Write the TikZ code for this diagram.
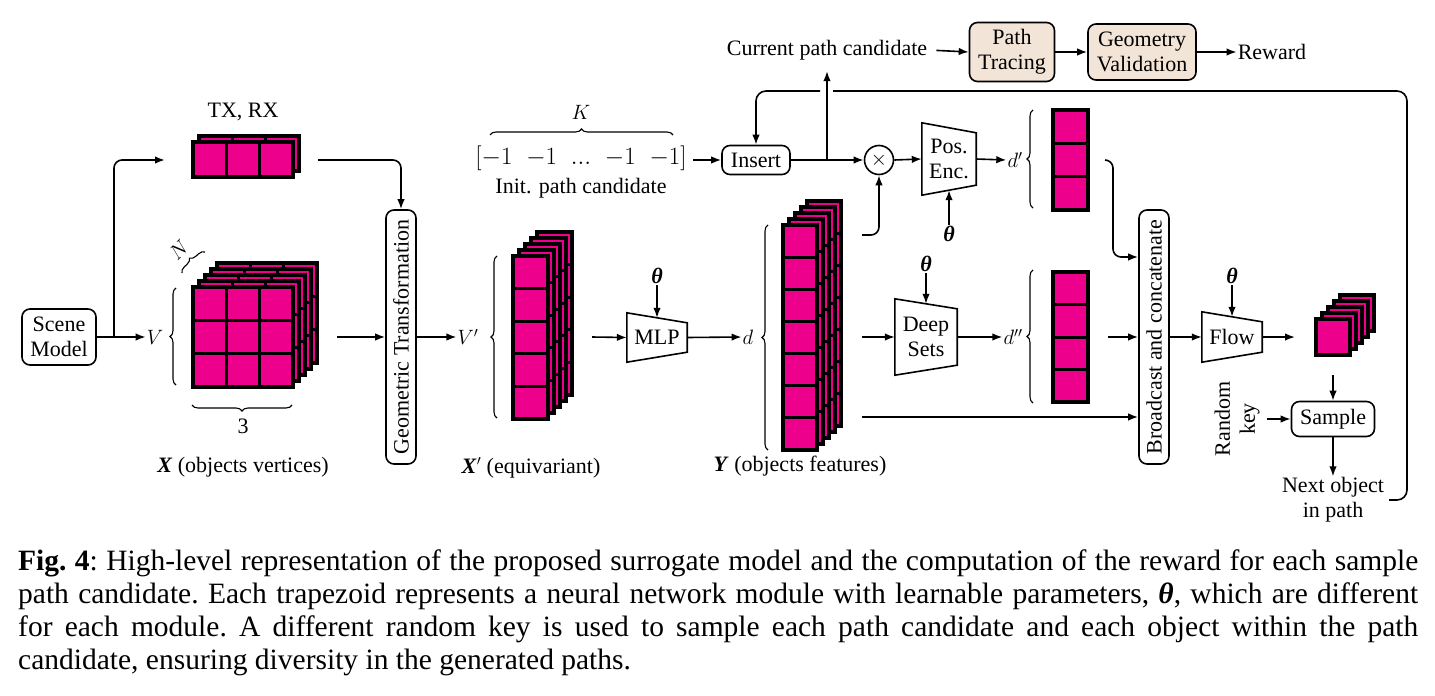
\documentclass[tikz,border=0pt]{standalone}
\usepackage{amsmath}
\usepackage{fontspec}
\setmainfont{Liberation Serif}
\usetikzlibrary{arrows.meta,decorations.pathreplacing,calc}
\definecolor{cellpink}{RGB}{236,0,140}
\definecolor{boxtan}{RGB}{242,228,214}
\newcommand\cellstack[8]{%
  \pgfmathtruncatemacro\nlay{#7-1}%
  \foreach \k in {\nlay,...,0}{%
    \pgfmathsetmacro\ox{#1+#8*\k}%
    \pgfmathsetmacro\oy{#2-#8*\k}%
    \pgfmathsetmacro\W{8+#3*#5+(#3-1)*3}%
    \pgfmathsetmacro\H{8+#4*#6+(#4-1)*3}%
    \fill[black] (\ox,\oy) rectangle ++(\W,\H);
    \foreach \i in {1,...,#3}{\foreach \j in {1,...,#4}{%
      \fill[cellpink] ({\ox+4+(\i-1)*(#5+3)},{\oy+4+(\j-1)*(#6+3)}) rectangle ++(#5,#6);
    }}%
  }}
\newcommand\trapdraw[2]{%
  \draw[line width=1.6pt, line join=miter] (#1.north west) -- ($(#1.north east)+(0,#2)$) -- ($(#1.south east)+(0,-#2)$) -- (#1.south west) -- cycle;}
\tikzset{
  every node/.style={font=\fontsize{22}{25}\selectfont},
  conn/.style={line width=1.6pt, -{Latex[length=10pt,width=7.5pt]}},
  plain/.style={line width=1.6pt},
  rbox/.style={draw, line width=1.6pt, rounded corners=8pt, inner sep=0pt, align=center},
  tanbox/.style={rbox, fill=boxtan},
  brc/.style={decorate, decoration={brace, amplitude=6pt}, line width=1.1pt},
  trapnode/.style={inner sep=0pt, align=center},
  lbl/.style={inner sep=1pt, align=center},
}
\begin{document}
\begin{tikzpicture}[x=1pt,y=-1pt]
\useasboundingbox[fill=white] (0,0) rectangle (1435,696);

% ---------- left part ----------
\node[rbox, minimum width=74pt, minimum height=56pt] (scene) at (59,337) {Scene\\Model};
\node[lbl] (V) at (155,337) {$V$};
\draw[conn] (scene.east) -- (V.west);
\coordinate (br) at (114,337);
\coordinate (txin) at (165,160);
\draw[conn, rounded corners=8pt] (br) |- (txin);

\node[lbl] (txl) at (243,112) {TX, RX};
\cellstack{191}{140}{3}{1}{30}{31}{2}{6}
\coordinate (txout) at (318,160);

\cellstack{191}{285}{3}{3}{30}{30}{5}{6}
\draw[brc] (176,385) -- (176,288);
\draw[brc] (292,405) -- (192,405);
\node[lbl] (three) at (243,426) {3};
\draw[brc] (182,273) -- (205,252);
\node[lbl, rotate=45] (N) at (179,250) {$N$};
\node[lbl] (xlab) at (243,467) {\textbf{\textit{X}} (objects vertices)};
\coordinate (xout) at (337,337);

\node[rbox, rotate=90, minimum width=254pt, minimum height=30pt] (gt) at (401,337) {Geometric Transformation};
\draw[conn, rounded corners=8pt] (txout) -| (gt.east);
\draw[conn] (xout) -- (gt.north);

\node[lbl] (Vp) at (468,337) {$V'$};
\draw[conn] (gt.south) -- (Vp.west);
\draw[brc] (497,418) -- (497,256);
\cellstack{511}{254}{1}{5}{31}{29.4}{5}{6}
\node[lbl] (xplab) at (531,468) {\textbf{\textit{X}}$'$ (equivariant)};
\coordinate (xpout) at (592,337);

\node[trapnode, minimum width=60pt, minimum height=49pt] (mlp) at (657,337.5) {MLP};
\trapdraw{mlp}{10}
\draw[conn] (xpout) -- (mlp.west);
\node[lbl] (th1) at (657,276) {\textbf{\textit{θ}}};
\draw[conn] (th1.south) -- ($(mlp.north)+(0,5)$);

\node[lbl] (d) at (748,337) {$d$};
\draw[conn] (mlp.east) -- (d.west);
\draw[brc] (768,450) -- (768,225);
\cellstack{781}{223}{1}{7}{30}{29}{5}{6}
\node[lbl] (ylab) at (800,466) {\textbf{\textit{Y}} (objects features)};
\coordinate (yup) at (862,235);
\coordinate (ymid) at (862,337);
\coordinate (ylow) at (862,417);

% ---------- top part ----------
\node[lbl] (K) at (581,112) {$K$};
\draw[brc] (490,135) -- (673,135);
\node[lbl, font=\fontsize{23}{26}\selectfont] (init) at (581,158) {$[{-1}\;\;{-1}\;\;...\;\;{-1}\;\;{-1}]$};
\node[lbl] (initl) at (581,188) {Init. path candidate};
\coordinate (initout) at (693,160);

\node[rbox, minimum width=68pt, minimum height=29pt] (ins) at (756,160) {Insert};
\draw[conn] (initout) -- (ins.west);
\node[circle, draw, line width=1.6pt, minimum size=29pt, inner sep=0pt] (ot) at (879,160) {$\times$};
\draw[conn] (ins.east) -- (ot.west);
\draw[conn, rounded corners=8pt] (yup) -| (ot.south);

\node[lbl] (cpc) at (827,50) {Current path candidate};
\coordinate (brup) at (827,160);
\draw[conn, shorten >=10pt] (brup) -- (cpc.south);
\node[tanbox, minimum width=85pt, minimum height=59pt] (pt) at (1012,52) {Path\\Tracing};
\node[tanbox, minimum width=108pt, minimum height=56pt] (gv) at (1142,52) {Geometry\\Validation};
\node[lbl] (rw) at (1272,52) {Reward};
\draw[conn, shorten <=8pt] (cpc.east) -- (pt.west);
\draw[conn] (pt.east) -- (gv.west);
\draw[conn] (gv.east) -- (rw.west);

\node[trapnode, minimum width=54pt, minimum height=72pt] (pe) at (949,159) {Pos.\\Enc.};
\trapdraw{pe}{10}
\draw[conn] (ot.east) -- (pe.west);
\node[lbl] (th2) at (949,234) {\textbf{\textit{θ}}};
\draw[conn] (th2.north) -- ($(pe.south)+(0,-5)$);
\node[lbl] (dp) at (1015,160) {$d'$};
\draw[conn] (pe.east) -- (dp.west);
\draw[brc] (1033,208) -- (1033,110);
\cellstack{1051}{108}{1}{3}{31}{30}{1}{6}
\coordinate (dpout) at (1105,160);
\coordinate (dpdown) at (1113,257);

% ---------- middle right ----------
\node[trapnode, minimum width=62pt, minimum height=76pt] (ds) at (926,337) {Deep\\Sets};
\trapdraw{ds}{10}
\node[lbl] (th3) at (926,264) {\textbf{\textit{θ}}};
\draw[conn] (th3.south) -- ($(ds.north)+(0,5)$);
\draw[conn] (ymid) -- (ds.west);
\node[lbl] (dpp) at (1013,337) {$d''$};
\draw[conn] (ds.east) -- (dpp.west);
\draw[brc] (1033,403) -- (1033,270);
\cellstack{1051}{270}{1}{4}{31}{29.25}{1}{6}
\coordinate (dppout) at (1108,337);

\node[rbox, rotate=90, minimum width=254pt, minimum height=30pt] (bc) at (1154,337) {Broadcast and concatenate};
\draw[conn, rounded corners=8pt] (dpout) -| (dpdown) -- (dpdown -| bc.north);
\draw[conn] (dppout) -- (bc.north);
\draw[conn] (ylow) -- (ylow -| bc.north);

\node[trapnode, minimum width=60pt, minimum height=50pt] (fl) at (1232,337) {Flow};
\trapdraw{fl}{10}
\draw[conn] (bc.south) -- (fl.west);
\node[lbl] (th4) at (1232,276) {\textbf{\textit{θ}}};
\draw[conn] (th4.south) -- ($(fl.north)+(0,5)$);
\coordinate (flout) at (1295,337);
\draw[conn] (fl.east) -- (flout);
\cellstack{1314}{317}{1}{1}{30}{32}{5}{6}
\coordinate (outdown) at (1333,375);

\node[rbox, minimum width=83pt, minimum height=35pt] (smp) at (1333,419) {Sample};
\draw[conn] (outdown) -- (smp.north);
\node[lbl, rotate=90] (rk) at (1237,419) {Random\\key};
\draw[conn, shorten <=6pt] (rk.south) -- (smp.west);
\node[lbl] (next) at (1333,500) {Next object\\in path};
\draw[conn] (smp.south) -- (next.north);

% loop back
\coordinate (loopTR) at (1407,91);
\coordinate (gapR) at (833,91);
\coordinate (gapL) at (820,91);
\draw[plain, rounded corners=10pt, shorten <=4pt] (next.east) -| (loopTR) -- (gapR);
\draw[conn, rounded corners=10pt] (gapL) -| (ins.north);

% caption
\node[anchor=north west, inner sep=0pt, text width=1400pt, align=justify, font=\fontsize{29.5}{33}\selectfont] (cap) at (18,550)
{\frenchspacing\textbf{Fig. 4}: High-level representation of the proposed surrogate model and the computation of the reward for each sample\linebreak path candidate. Each trapezoid represents a neural network module with learnable parameters, \textbf{\textit{θ}}, which are different\linebreak for each module. A different random key is used to sample each path candidate and each object within the path\linebreak candidate, ensuring diversity in the generated paths.};
\end{tikzpicture}
\end{document}
